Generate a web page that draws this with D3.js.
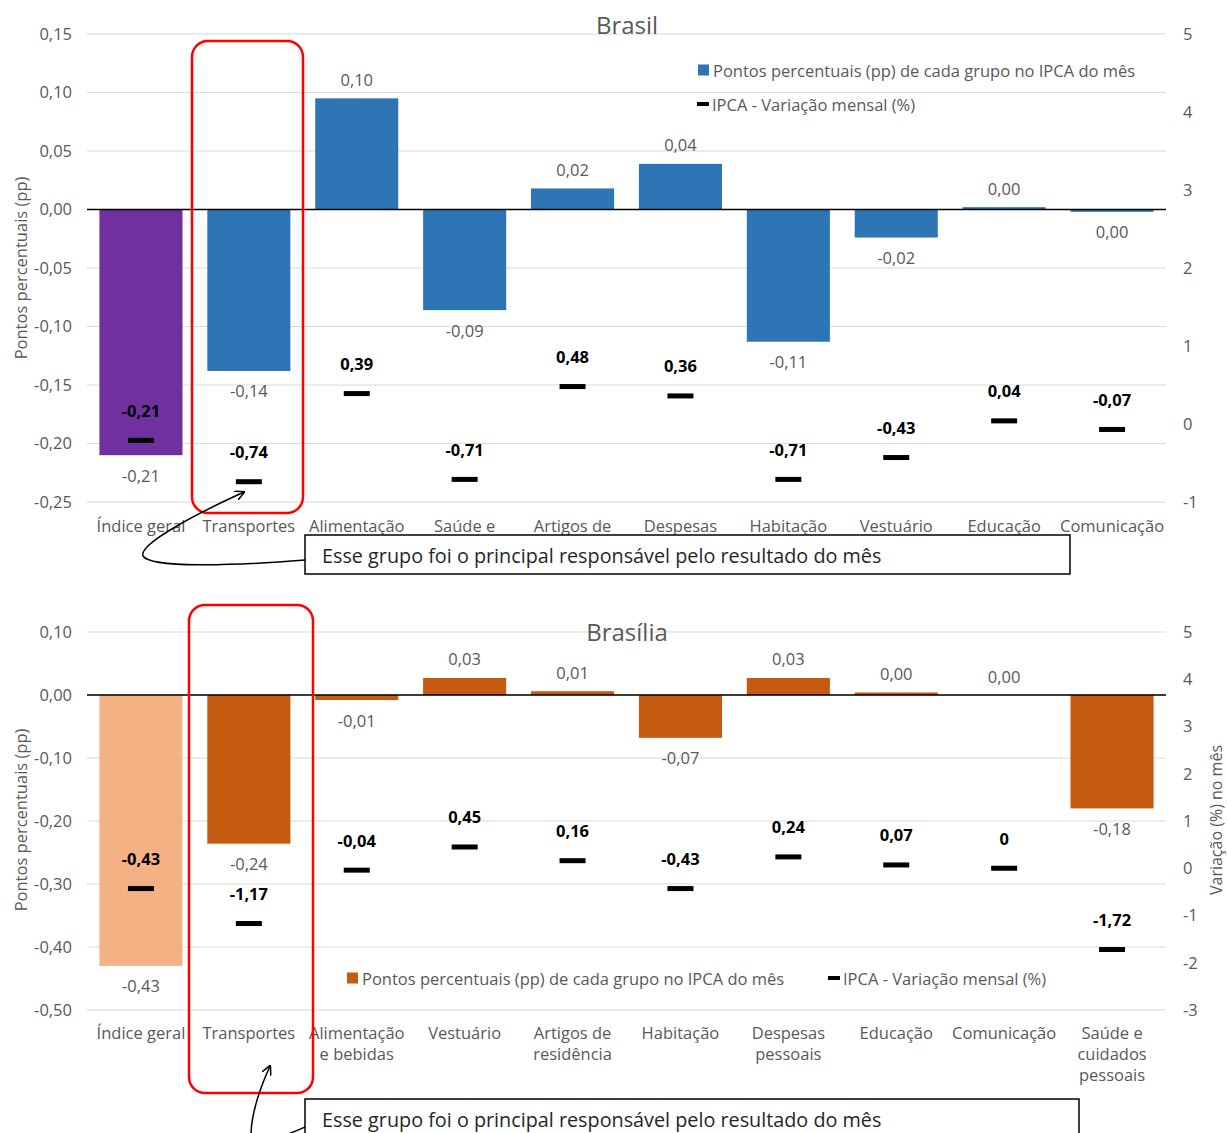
<!DOCTYPE html>
<html><head><meta charset="utf-8">
<script src="https://cdnjs.cloudflare.com/ajax/libs/d3/7.8.5/d3.min.js"></script>
<style>body{margin:0;background:#fff;} svg{display:block;font-family:"Open Sans",sans-serif;}</style>
</head><body>
<svg id="c" width="1228" height="1133"></svg>
<script>
// ---------- DATA ----------
const brasilCategories = ["Índice geral","Transportes","Alimentação","Saúde e","Artigos de","Despesas","Habitação","Vestuário","Educação","Comunicação"];
const brasilPP = [-0.21,-0.138,0.095,-0.086,0.018,0.039,-0.113,-0.024,0.002,-0.002];
const brasilIPCA = [-0.21,-0.74,0.39,-0.71,0.48,0.36,-0.71,-0.43,0.04,-0.07];
const brasilLeftTicks = [0.15,0.10,0.05,0.00,-0.05,-0.10,-0.15,-0.20,-0.25];
const brasilRightTicks = [5,4,3,2,1,0,-1];

const bsbCategories = ["Índice geral","Transportes","Alimentação\ne bebidas","Vestuário","Artigos de\nresidência","Habitação","Despesas\npessoais","Educação","Comunicação","Saúde e\ncuidados\npessoais"];
const bsbPP = [-0.43,-0.236,-0.008,0.027,0.006,-0.068,0.027,0.004,0.0,-0.18];
const bsbIPCA = [-0.43,-1.17,-0.04,0.45,0.16,-0.43,0.24,0.07,0,-1.72];
const bsbLeftTicks = [0.10,0.00,-0.10,-0.20,-0.30,-0.40,-0.50];
const bsbRightTicks = [5,4,3,2,1,0,-1,-2,-3];

const legendBarText = "Pontos percentuais (pp) de cada grupo no IPCA do mês";
const legendLineText = "IPCA - Variação mensal (%)";
const noteText = "Esse grupo foi o principal responsável pelo resultado do mês";

// ---------- DRAW ----------
const svg = d3.select("#c");
const fmt2 = v => { let s = d3.format(".2f")(v).replace("−","-"); if (s === "-0.00") s = "0.00"; return s.replace(".", ","); };
const fmtI = v => v === 0 ? "0" : d3.format(".2f")(v).replace(".", ",").replace("−","-");
const grey = "#595959";
const FS = "16.5px";

function drawChart(o) {
  const g = svg.append("g");
  const x = d3.scaleBand().domain(o.categories).range([87, 1166]).paddingInner(0.23).paddingOuter(0.115);
  const yL = d3.scaleLinear().domain(o.leftDomain).range([o.bottom, o.top]);
  const yR = d3.scaleLinear().domain(o.rightDomain).range([o.bottom, o.top]);

  // gridlines
  g.append("g").selectAll("line").data(o.leftTicks).join("line")
    .attr("x1", 87).attr("x2", 1166).attr("y1", d => yL(d)).attr("y2", d => yL(d))
    .attr("stroke", "#D9D9D9").attr("stroke-width", 1);

  // left axis
  const la = g.append("g").attr("transform", "translate(87,0)")
    .call(d3.axisLeft(yL).tickValues(o.leftTicks).tickSize(0).tickPadding(15).tickFormat(fmt2));
  la.select(".domain").remove();
  la.selectAll("text").attr("fill", grey).style("font-size", FS).style("font-family", "Open Sans");
  // right axis
  const ra = g.append("g").attr("transform", "translate(1166,0)")
    .call(d3.axisRight(yR).tickValues(o.rightTicks).tickSize(0).tickPadding(17).tickFormat(d => String(d).replace("−","-")));
  ra.select(".domain").remove();
  ra.selectAll("text").attr("fill", grey).style("font-size", FS).style("font-family", "Open Sans");

  // title
  g.append("text").attr("x", 627).attr("y", o.titleY).attr("text-anchor", "middle").attr("dominant-baseline", "central")
    .attr("fill", grey).style("font-size", "24px").text(o.title);

  // axis titles
  g.append("text").attr("transform", `translate(20,${o.leftTitleY}) rotate(-90)`).attr("text-anchor", "middle")
    .attr("dominant-baseline", "central").attr("fill", grey).style("font-size", FS).text("Pontos percentuais (pp)");
  if (o.rightTitle) {
    g.append("text").attr("transform", `translate(1216,${o.leftTitleY}) rotate(-90)`).attr("text-anchor", "middle")
      .attr("dominant-baseline", "central").attr("fill", grey).style("font-size", "16px").text(o.rightTitle);
  }

  // bars
  const data = o.categories.map((c, i) => ({c, v: o.pp[i], ip: o.ipca[i], i}));
  g.append("g").selectAll("rect").data(data).join("rect")
    .attr("x", d => x(d.c)).attr("width", x.bandwidth())
    .attr("y", d => Math.min(yL(d.v), yL(0))).attr("height", d => Math.abs(yL(d.v) - yL(0)))
    .attr("fill", d => d.i === 0 ? o.firstColor : o.color);

  // zero line
  g.append("line").attr("x1", 87).attr("x2", 1166).attr("y1", yL(0)).attr("y2", yL(0))
    .attr("stroke", "#000").attr("stroke-width", 1.5);

  // bar labels
  g.append("g").selectAll("text").data(data).join("text")
    .attr("x", d => x(d.c) + x.bandwidth() / 2)
    .attr("y", d => d.v < 0 ? yL(d.v) + 20 : yL(d.v) - 19)
    .attr("text-anchor", "middle").attr("dominant-baseline", "central")
    .attr("fill", grey).style("font-size", FS).text(d => fmt2(d.v));

  // ipca markers
  g.append("g").selectAll("rect").data(data).join("rect")
    .attr("x", d => x(d.c) + x.bandwidth() / 2 - 13).attr("width", 26)
    .attr("y", d => yR(d.ip) - 2.5).attr("height", 5).attr("fill", "#000");
  g.append("g").selectAll("text").data(data).join("text")
    .attr("x", d => x(d.c) + x.bandwidth() / 2)
    .attr("y", d => yR(d.ip) - 30)
    .attr("text-anchor", "middle").attr("dominant-baseline", "central")
    .attr("fill", "#000").style("font-size", FS).style("font-weight", "bold").text(d => fmtI(d.ip));

  // category labels
  const cl = g.append("g").selectAll("text").data(data).join("text")
    .attr("x", d => x(d.c) + x.bandwidth() / 2).attr("y", o.catY)
    .attr("text-anchor", "middle").attr("fill", grey).style("font-size", FS);
  cl.each(function(d) {
    const lines = d.c.split("\n");
    d3.select(this).selectAll("tspan").data(lines).join("tspan")
      .attr("x", x(d.c) + x.bandwidth() / 2).attr("dy", (l, k) => k === 0 ? 0 : 21)
      .attr("dominant-baseline", "central").text(l => l);
  });

  // legend
  o.legend.forEach(L => {
    if (L.type === "bar") {
      g.append("rect").attr("x", L.x).attr("y", L.y - 5.5).attr("width", 11).attr("height", 11).attr("fill", o.color);
    } else {
      g.append("rect").attr("x", L.x).attr("y", L.y - 2).attr("width", 12).attr("height", 4).attr("fill", "#000");
    }
    g.append("text").attr("x", L.x + 15).attr("y", L.y).attr("dominant-baseline", "central")
      .attr("fill", grey).style("font-size", FS).text(L.text);
  });

  // red highlight
  const h = o.highlight;
  g.append("rect").attr("x", h.x).attr("y", h.y).attr("width", h.w).attr("height", h.h)
    .attr("rx", 16).attr("ry", 16).attr("fill", "none").attr("stroke", "#FF0000").attr("stroke-width", 2.5);

  // note box
  const n = o.note;
  g.append("rect").attr("x", n.x).attr("y", n.y).attr("width", n.w).attr("height", n.h)
    .attr("fill", "#fff").attr("stroke", "#000").attr("stroke-width", 1.5);
  g.append("text").attr("x", n.x + 17).attr("y", n.ty).attr("dominant-baseline", "central")
    .attr("fill", "#262626").style("font-size", "19.8px").text(noteText);

  // arrow
  g.append("path").attr("d", o.arrow).attr("fill", "none").attr("stroke", "#000").attr("stroke-width", 1.5)
    .attr("marker-end", "url(#arr)");
}

svg.append("defs").append("marker").attr("id", "arr").attr("viewBox", "0 0 10 10").attr("refX", 9).attr("refY", 5)
  .attr("markerWidth", 10).attr("markerHeight", 10).attr("markerUnits", "userSpaceOnUse").attr("orient", "auto")
  .append("path").attr("d", "M0,0 L10,5 L0,10").attr("fill", "none").attr("stroke", "#000").attr("stroke-width", 1.5);

drawChart({
  categories: brasilCategories, pp: brasilPP, ipca: brasilIPCA,
  leftDomain: [-0.25, 0.15], rightDomain: [-1, 5], top: 34, bottom: 502,
  leftTicks: brasilLeftTicks, rightTicks: brasilRightTicks,
  title: "Brasil", titleY: 24, leftTitleY: 268, rightTitle: null,
  color: "#2E75B6", firstColor: "#7030A0", catY: 525,
  legend: [{type: "bar", x: 698, y: 70, text: legendBarText}, {type: "line", x: 697, y: 104, text: legendLineText}],
  highlight: {x: 192, y: 41, w: 111, h: 472},
  note: {x: 305, y: 535, w: 765, h: 39, ty: 555},
  arrow: "M305,560 C230,566 150,568 143,556 C138,544 200,512 244,492"
});

drawChart({
  categories: bsbCategories, pp: bsbPP, ipca: bsbIPCA,
  leftDomain: [-0.5, 0.1], rightDomain: [-3, 5], top: 632, bottom: 1010,
  leftTicks: bsbLeftTicks, rightTicks: bsbRightTicks,
  title: "Brasília", titleY: 631, leftTitleY: 820, rightTitle: "Variação (%) no mês",
  color: "#C55A11", firstColor: "#F4B183", catY: 1032,
  legend: [{type: "bar", x: 347, y: 978, text: legendBarText}, {type: "line", x: 828, y: 978, text: legendLineText}],
  highlight: {x: 189, y: 605, w: 124, h: 488},
  note: {x: 305, y: 1099, w: 774, h: 50, ty: 1119},
  arrow: "M305,1127 C275,1140 252,1150 251,1133 C252,1110 260,1088 270,1066"
});
</script>
</body></html>
